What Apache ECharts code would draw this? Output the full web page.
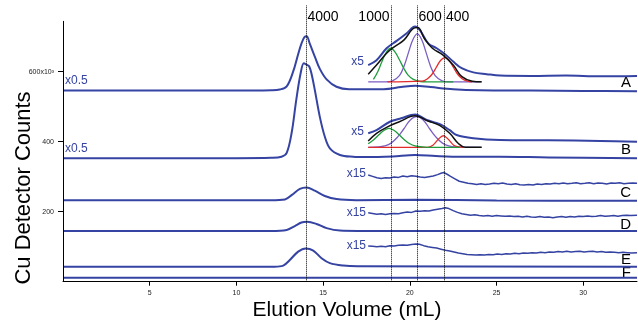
<!DOCTYPE html>
<html><head><meta charset="utf-8">
<script src="https://cdn.jsdelivr.net/npm/echarts@6/dist/echarts.min.js"></script>
<style>html,body{margin:0;padding:0;background:#fff}#c{width:638px;height:323px}</style>
</head><body><div id="c"></div>
<script>
// ---- data (elution volume mL, Cu counts x10^3 as displayed) ----
const xTicks = [5, 10, 15, 20, 25, 30];
const yTicks = [200, 400, 600];
const yTickLabels = ['200', '400', '600x10\u00b3'];
const traceNames = ['A', 'B', 'C', 'D', 'E', 'F'];
const markerVols = [14.04, 18.9, 20.43, 21.97];
const markerLabels = ['4000', '1000', '600', '400'];

const mainA = [[0,546],[5,546],[10,546],[12,547],[12.5,549],[12.9,558],[13.27,600],[13.56,650],[13.75,680],[13.94,700],[14.05,701],[14.23,680],[14.52,643],[14.81,608],[15.2,578],[15.77,557],[16.5,550],[17.5,550],[18.5,550],[19.5,556],[20.3,560],[21.2,556],[22.5,550],[24,547],[27,546],[30,545],[33.1,544]];
const mainB = [[0,353],[10,353],[12,354],[12.6,357],[12.9,368],[13.18,424],[13.45,519],[13.7,595],[13.89,624],[14.04,620],[14.2,615],[14.35,590],[14.52,548],[14.81,471],[15.1,414],[15.39,381],[15.97,362],[16.73,357],[17.5,356],[19,358],[20.3,362],[21.5,359],[23,357],[25.2,357],[28,355],[33.1,353]];
const mainC = [[0,233],[12,233],[12.8,235],[13.2,248],[13.66,265],[14.04,269],[14.52,260],[15.1,245],[15.77,236],[16.9,233],[20.3,234],[25,232],[33.1,231]];
const mainD = [[0,145],[12,145],[12.9,148],[13.37,159],[13.75,169],[14.08,171],[14.62,165],[15.2,153],[15.97,146],[17,145],[33.1,145]];
const mainE = [[0,43],[12.2,43],[12.7,46],[13.08,62],[13.56,86],[14.0,95],[14.43,89],[14.91,67],[15.39,53],[16.16,46],[17,44],[33.1,43]];
const mainF = [[0,11],[33.1,11]];

const x5A = [[17.6,619],[18.08,633],[18.66,667],[19.24,688],[19.82,710],[20.3,729],[20.58,719],[21.06,681],[21.55,667],[22.03,650],[22.5,629],[22.99,610],[23.66,598],[24.43,593],[25.2,589],[27,588],[29,589],[31,587],[33.1,588]];
const x5B = [[17.6,424],[18.08,433],[18.85,457],[19.5,467],[20.3,478],[20.97,462],[21.74,450],[22.3,433],[22.7,419],[23.66,410],[25.2,405],[28,404],[31,402],[33.1,400]];

const x15C = [[17.6,305],[17.85,301],[18.1,297],[18.35,295],[18.6,297],[18.85,296],[19.1,299],[19.35,298],[19.6,302],[19.85,300],[20.1,303],[20.35,301],[20.6,299],[20.85,298],[21.1,300],[21.35,302],[21.6,306],[21.8,310],[21.95,312],[22.15,307],[22.35,301],[22.6,294],[22.85,287],[23.1,284],[23.35,281],[23.6,280],[23.85,278],[24.1,280],[24.35,278],[24.6,279],[24.85,281],[25.1,280],[25.35,282],[25.6,279],[25.85,278],[26.1,280],[26.35,277],[26.6,276],[26.85,278],[27.1,276],[27.35,279],[27.6,278],[27.85,280],[28.1,279],[28.35,281],[28.6,280],[28.85,282],[29.1,280],[29.35,281],[29.6,283],[29.85,280],[30.1,281],[30.35,283],[30.6,280],[30.85,282],[31.1,281],[31.35,279],[31.6,282],[31.85,281],[32.1,283],[32.35,280],[32.6,281],[32.85,282],[33.1,281]];
const x15D = [[17.6,197],[17.85,195],[18.1,193],[18.35,194],[18.6,192],[18.85,194],[19.1,195],[19.35,194],[19.6,197],[19.85,199],[20.1,198],[20.35,202],[20.6,201],[20.85,203],[21.1,202],[21.35,205],[21.6,207],[21.85,209],[22.05,211],[22.25,209],[22.5,203],[22.75,198],[23.0,194],[23.25,192],[23.5,190],[23.75,191],[24.0,189],[24.25,188],[24.5,189],[24.75,187],[25.0,189],[25.25,188],[25.5,187],[25.75,188],[26.0,186],[26.25,187],[26.5,185],[26.75,187],[27.0,185],[27.25,184],[27.5,186],[27.75,184],[28.0,185],[28.25,183],[28.5,185],[28.75,186],[29.0,184],[29.25,186],[29.5,185],[29.75,187],[30.0,186],[30.25,188],[30.5,186],[30.75,187],[31.0,189],[31.25,187],[31.5,188],[31.75,189],[32.0,187],[32.25,189],[32.5,190],[32.75,189],[33.1,190]];
const x15E = [[17.6,102],[17.85,101],[18.1,100],[18.35,101],[18.6,100],[18.85,103],[19.1,102],[19.35,104],[19.6,105],[19.85,104],[20.1,106],[20.35,108],[20.55,107],[20.8,103],[21.05,100],[21.3,98],[21.55,96],[21.8,93],[22.05,90],[22.3,88],[22.55,85],[22.8,82],[23.05,80],[23.3,78],[23.55,77],[23.8,76],[24.05,77],[24.3,76],[24.55,78],[24.8,77],[25.05,79],[25.3,78],[25.55,80],[25.8,79],[26.05,81],[26.3,80],[26.55,82],[26.8,81],[27.05,83],[27.3,82],[27.55,84],[27.8,83],[28.05,85],[28.3,84],[28.55,86],[28.8,85],[29.05,87],[29.3,85],[29.55,86],[29.8,87],[30.05,85],[30.3,86],[30.55,87],[30.8,85],[31.05,86],[31.3,84],[31.55,85],[31.8,84],[32.05,83],[32.3,84],[32.55,83],[32.8,82],[33.1,83]];

// fitted components, trace A inset
const fitAPurple = [[17.6,571],[18.6,571],[19.0,574],[19.4,589],[19.66,615],[19.93,656],[20.18,692],[20.43,708],[20.68,692],[20.93,656],[21.2,615],[21.46,589],[21.86,574],[22.3,571],[24.14,571]];
const fitAGreen = [[17.9,578],[18.15,600],[18.4,630],[18.65,656],[18.9,667],[19.15,656],[19.4,634],[19.65,610],[19.9,590],[20.2,578],[20.6,572],[21.0,571],[22.5,571]];
const fitARed = [[18.7,571],[20.72,573],[21.02,580],[21.27,592],[21.52,612],[21.77,632],[22.02,640],[22.27,632],[22.52,612],[22.77,592],[23.02,580],[23.32,573],[23.6,571]];
const fitASum = [[17.6,593],[18.08,619],[18.66,653],[19.1,671],[19.67,691],[20.16,722],[20.45,726],[20.84,695],[21.3,667],[21.9,648],[22.5,619],[23.0,586],[23.6,573],[24.14,571]];
// fitted components, trace B inset
const fitBPurple = [[17.6,384],[18.2,385],[18.55,388],[18.92,396],[19.29,413],[19.66,437],[20.03,462],[20.4,472],[20.77,462],[21.14,437],[21.51,413],[21.88,396],[22.25,388],[22.6,385],[24.14,384]];
const fitBRed = [[17.6,384],[21.0,384],[21.33,390],[21.63,406],[21.93,417],[22.23,406],[22.53,390],[22.83,385],[23.1,384]];
const fitBGreen = [[17.6,394],[17.9,405],[18.2,419],[18.5,432],[18.8,438],[19.1,432],[19.4,419],[19.7,405],[20.0,394],[20.3,388],[20.7,385],[21.0,384],[22.9,384]];
const fitBSum = [[17.6,402],[18.08,424],[18.74,443],[19.4,457],[20.3,474],[21.05,459],[21.74,446],[22.3,424],[22.8,395],[23.2,384],[24.14,384]];
const yAxisTop = 745;

// ---- chart ----
const BLUE = '#3543a3', FONT = '"Liberation Sans", Arial, sans-serif';
const chart = echarts.init(document.getElementById('c'), null, {renderer: 'canvas'});
function line(data, color, width, smooth) {
  return {type: 'line', data: data, showSymbol: false, symbol: 'none', smooth: smooth,
    lineStyle: {color: color, width: width}, silent: true, z: 2};
}
const series = [
  line(mainA, BLUE, 2, 0.35), line(mainB, BLUE, 2, 0.35), line(mainC, BLUE, 2, 0.35),
  line(mainD, BLUE, 2, 0.35), line(mainE, BLUE, 2, 0.35), line(mainF, BLUE, 2, false),
  line(x5A, BLUE, 2, 0.35), line(x5B, BLUE, 2, 0.35),
  line(x15C, BLUE, 1.5, false), line(x15D, BLUE, 1.5, false), line(x15E, BLUE, 1.5, false),
  line(fitAPurple, '#7b5ec2', 1.3, 0.4), line(fitAGreen, '#1f9c3c', 1.3, 0.4), line(fitARed, '#e42b2b', 1.3, 0.4), line(fitASum, '#111111', 1.5, 0.4),
  line(fitBPurple, '#7b5ec2', 1.3, 0.4), line(fitBRed, '#e42b2b', 1.3, 0.4), line(fitBGreen, '#1f9c3c', 1.3, 0.4), line(fitBSum, '#111111', 1.5, 0.4),
  {type: 'line', data: [], silent: true,
   markLine: {silent: true, symbol: 'none', animation: false, label: {show: false},
     lineStyle: {color: '#000', type: 'dotted', width: 1},
     data: markerVols.map(v => ({xAxis: v})).concat([[{coord: [0, 0], lineStyle: {type: 'solid', width: 1, color: '#000'}}, {coord: [0, yAxisTop]}]])}}
];
const g = [];
const txt = (t, x, y, opt) => g.push(Object.assign({type: 'text', x: x, y: y, silent: true,
  style: {text: t, font: (opt.size || 12) + 'px ' + FONT, fill: opt.fill || '#000',
    textAlign: opt.align || 'left', textVerticalAlign: 'middle'}}, opt.rot ? {rotation: opt.rot} : {}));
// axis titles
txt('Cu Detector Counts', 24, 188, {size: 22, align: 'center', rot: Math.PI / 2});
txt('Elution Volume (mL)', 347, 310, {size: 21, align: 'center'});
// trace letters
const letterY = [83, 150, 193, 225, 260, 273];
traceNames.forEach((n, i) => txt(n, 631, letterY[i], {size: 15, align: 'right'}));
// scale factors
txt('x0.5', 65, 81, {fill: BLUE}); txt('x0.5', 65, 149, {fill: BLUE});
txt('x5', 364, 62, {fill: BLUE, align: 'right'}); txt('x5', 364, 131.5, {fill: BLUE, align: 'right'});
txt('x15', 366, 174, {fill: BLUE, align: 'right'}); txt('x15', 366, 212.5, {fill: BLUE, align: 'right'});
txt('x15', 366, 246, {fill: BLUE, align: 'right'});
// marker labels
txt(markerLabels[0], 307.5, 17, {size: 14}); txt(markerLabels[1], 389.5, 17, {size: 14, align: 'right'});
txt(markerLabels[2], 418.5, 17, {size: 14}); txt(markerLabels[3], 446, 17, {size: 14});

chart.setOption({
  animation: false,
  grid: {left: 63, right: 1, top: 5.2, bottom: 41.3, containLabel: false},
  xAxis: {type: 'value', min: 0, max: 33.1, interval: 5, splitLine: {show: false},
    axisLine: {show: true, onZero: false, lineStyle: {color: '#000', width: 1}},
    axisTick: {show: true, length: 4, inside: false, customValues: xTicks, lineStyle: {color: '#000'}},
    axisLabel: {fontSize: 7, color: '#222', fontFamily: FONT, margin: 8, customValues: xTicks,
      formatter: v => xTicks.indexOf(v) >= 0 ? String(v) : ''}},
  yAxis: {type: 'value', min: 0, max: 790, interval: 200, splitLine: {show: false},
    axisLine: {show: false},
    axisTick: {show: true, length: 5, inside: false, customValues: yTicks, lineStyle: {color: '#000'}},
    axisLabel: {fontSize: 7, color: '#222', fontFamily: FONT, margin: 9, customValues: yTicks,
      formatter: v => { const i = yTicks.indexOf(v); return i >= 0 ? yTickLabels[i] : ''; }}},
  series: series,
  graphic: g
});
</script></body></html>
